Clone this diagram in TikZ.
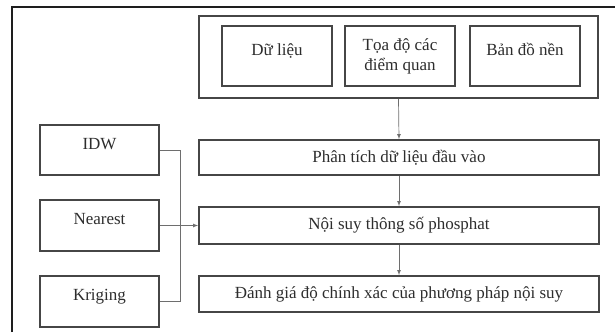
\documentclass[tikz,border=0pt]{standalone}
\usepackage{fontspec}
\setmainfont{Liberation Serif}
\usetikzlibrary{arrows}

\tikzset{
  box/.style={draw={rgb,255:red,70;green,70;blue,70},line width=1.8pt,fill=white,
    inner sep=0pt,align=center,text={rgb,255:red,45;green,45;blue,45},font=\fontsize{17}{20}\selectfont},
  raised/.style={text height=12pt,text depth=14pt},
  link/.style={draw={rgb,255:red,110;green,110;blue,110},line width=0.7pt},
}

\begin{document}
\begin{tikzpicture}[x=1pt,y=1pt,yscale=-1,xscale=1]
\useasboundingbox (0,0) rectangle (615,332);

%Frame
\coordinate (fbl) at (12,332);
\coordinate (ftl) at (12,7);
\coordinate (ftr) at (615,7);
\draw [line width=1.2pt,color={rgb,255:red,30;green,30;blue,30}] (fbl) -- (ftl) -- (ftr) ;

%Input group
\node [box,minimum width=399,minimum height=82] (inputs) at (398.5,57) {};
\node [box,raised,minimum width=110,minimum height=60] (data) at (277,56) {Dữ liệu};
\node [box,minimum width=110,minimum height=60] (coords) at (400,56) {Tọa độ các\\điểm quan};
\node [box,raised,minimum width=110,minimum height=60] (basemap) at (525,56) {Bản đồ nền};

%Process steps
\node [box,minimum width=400,minimum height=35] (analysis) at (399,157.5) {Phân tích dữ liệu đầu vào};
\node [box,minimum width=400,minimum height=37] (interp) at (399,225.5) {Nội suy thông số phosphat};
\node [box,minimum width=400,minimum height=36] (eval) at (399,294) {Đánh giá độ chính xác của phương pháp nội suy};

%Methods
\node [box,raised,minimum width=119,minimum height=50] (idw) at (99.5,150) {IDW};
\node [box,raised,minimum width=119,minimum height=51] (nearest) at (99.5,225.5) {Nearest};
\node [box,raised,minimum width=119,minimum height=51] (kriging) at (99.5,301.5) {Kriging};

%Arrows
\draw [link,-latex] (inputs.south) -- (analysis.north) ;
\draw [link,-latex] (analysis.south) -- (interp.north) ;
\draw [link,-latex] (interp.south) -- (eval.north) ;

\coordinate (bustop) at (180,150);
\coordinate (busbot) at (180,301.5);
\draw [link] (idw.east) -- (bustop) -- (busbot) -- (kriging.east) ;
\draw [link,-latex] (nearest.east) -- (interp.west) ;
\end{tikzpicture}
\end{document}
